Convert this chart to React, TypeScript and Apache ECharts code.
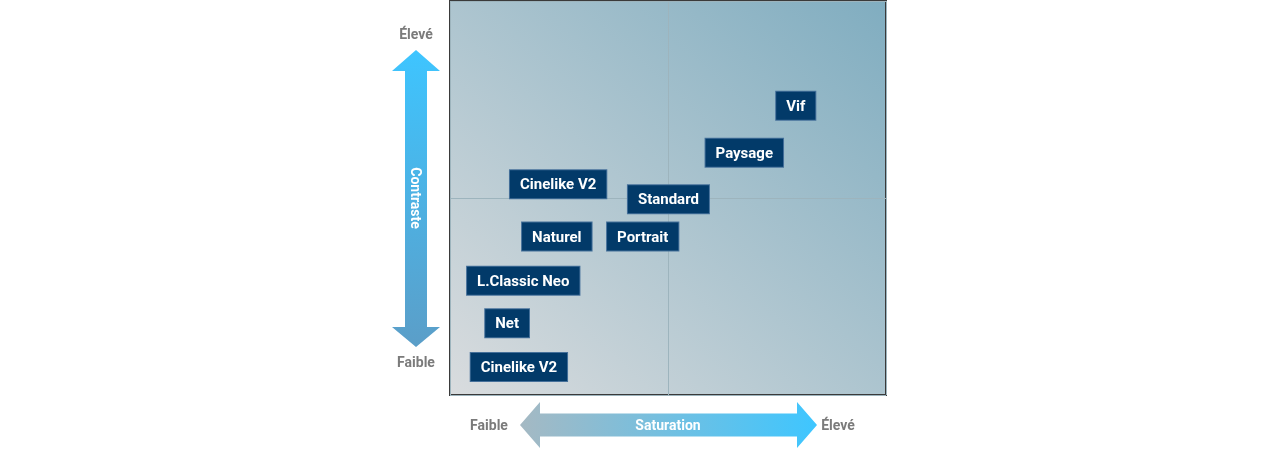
import React, { useEffect, useRef } from "react";
import * as echarts from "echarts";

const labels = ["Vif", "Paysage", "Standard", "Cinelike V2", "Naturel", "Portrait", "L.Classic Neo", "Net", "Cinelike V2"];
const saturation = [79.3, 67.5, 50.1, 24.8, 24.5, 44.2, 16.8, 13.1, 15.8];
const contrast = [73.4, 61.5, 49.7, 53.5, 40.2, 40.2, 29.0, 18.2, 7.1];
const axisTitles = { x: "Saturation", y: "Contraste" };
const levelLow = "Faible";
const levelHigh = "Élevé";

export default function App() {
  const ref = useRef<HTMLDivElement>(null);
  useEffect(() => {
    if (!ref.current) return;
    const chart = echarts.init(ref.current, null, { renderer: "svg" });
    const font = "Roboto, 'Noto Sans', sans-serif";
    const data = labels.map((n, i) => ({ name: n, value: [saturation[i], contrast[i]] }));
    const greyText = { fill: "#7b7b7b", font: `bold 14px ${font}`, textAlign: "center", textVerticalAlign: "middle" };
    chart.setOption({
      animation: false,
      grid: {
        left: 450,
        right: 394,
        top: 1,
        bottom: 55,
        show: true,
        borderColor: "#3a3a3a",
        borderWidth: 2,
        backgroundColor: new echarts.graphic.LinearGradient(0, 1, 1, 0, [
          { offset: 0, color: "#d9dcde" },
          { offset: 1, color: "#80adc0" },
        ]),
      },
      xAxis: {
        type: "value",
        min: 0,
        max: 100,
        interval: 50,
        axisLine: { show: false },
        axisTick: { show: false },
        axisLabel: { show: false },
        splitLine: { show: true, lineStyle: { color: "#9db4bd", width: 1 } },
      },
      yAxis: {
        type: "value",
        min: 0,
        max: 100,
        interval: 50,
        axisLine: { show: false },
        axisTick: { show: false },
        axisLabel: { show: false },
        splitLine: { show: true, lineStyle: { color: "#9db4bd", width: 1 } },
      },
      series: [
        {
          type: "scatter",
          data,
          symbolSize: 1,
          itemStyle: { color: "rgba(0,0,0,0)", opacity: 1 },
          label: {
            show: true,
            position: "inside",
            formatter: (p: any) => p.name,
            color: "#ffffff",
            fontFamily: font,
            fontWeight: "bold",
            fontSize: 15,
            backgroundColor: "#023a69",
            borderColor: "#45709a",
            borderWidth: 1,
            padding: [7, 10, 6, 10],
          },
        },
      ],
      graphic: [
        {
          type: "polygon",
          shape: {
            points: [
              [416, 50], [440, 71], [427, 71], [427, 327], [440, 327],
              [416, 347], [392, 327], [405, 327], [405, 71], [392, 71],
            ],
          },
          style: {
            fill: new echarts.graphic.LinearGradient(0, 0, 0, 1, [
              { offset: 0, color: "#3ec5ff" },
              { offset: 1, color: "#5b9ec8" },
            ]),
          },
        },
        {
          type: "polygon",
          shape: {
            points: [
              [520, 425], [540, 402], [540, 413.5], [797, 413.5], [797, 402],
              [817, 425], [797, 448], [797, 436.5], [540, 436.5], [540, 448],
            ],
          },
          style: {
            fill: new echarts.graphic.LinearGradient(0, 0, 1, 0, [
              { offset: 0, color: "#a5b9c3" },
              { offset: 1, color: "#3ec6ff" },
            ]),
          },
        },
        {
          type: "text",
          x: 416,
          y: 198,
          rotation: -Math.PI / 2,
          style: { text: axisTitles.y, fill: "#ffffff", font: `bold 14px ${font}`, textAlign: "center", textVerticalAlign: "middle" },
        },
        {
          type: "text",
          x: 668,
          y: 425,
          style: { text: axisTitles.x, fill: "#ffffff", font: `bold 14px ${font}`, textAlign: "center", textVerticalAlign: "middle" },
        },
        { type: "text", x: 416, y: 34, style: { ...greyText, text: levelHigh } },
        { type: "text", x: 416, y: 362, style: { ...greyText, text: levelLow } },
        { type: "text", x: 489, y: 425, style: { ...greyText, text: levelLow } },
        { type: "text", x: 838, y: 425, style: { ...greyText, text: levelHigh } },
      ],
    });
    return () => chart.dispose();
  }, []);
  return <div ref={ref} style={{ position: "fixed", left: 0, top: 0, width: 1280, height: 450 }} />;
}
